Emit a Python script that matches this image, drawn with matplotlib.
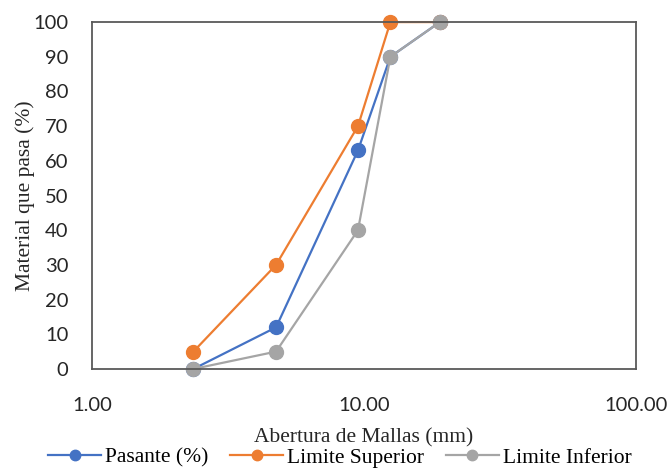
import matplotlib.pyplot as plt
from matplotlib.ticker import FixedLocator, NullLocator

# datos de la curva granulometrica
abertura = [2.36, 4.75, 9.5, 12.5, 19.0]
pasante = [0, 12, 63, 90, 100]
lim_sup = [5, 30, 70, 100, 100]
lim_inf = [0, 5, 40, 90, 100]

x_ticks = [1, 10, 100]
x_labels = ['1.00', '10.00', '100.00']
y_ticks = [0, 10, 20, 30, 40, 50, 60, 70, 80, 90, 100]

fig = plt.figure(figsize=(6.71, 4.70), dpi=100)
ax = fig.add_axes([0.137, 0.215, 0.811, 0.738])

ax.plot(abertura, pasante, color='#4472C4', lw=1.6, marker='o', ms=10, label='Pasante (%)', clip_on=False)
ax.plot(abertura, lim_sup, color='#ED7D31', lw=1.6, marker='o', ms=10, label='Limite Superior', clip_on=False)
ax.plot(abertura, lim_inf, color='#A5A5A5', lw=1.6, marker='o', ms=10, label='Limite Inferior', clip_on=False)

ax.set_xscale('log')
ax.set_xlim(1, 100)
ax.set_ylim(0, 100)
ax.xaxis.set_major_locator(FixedLocator(x_ticks))
ax.xaxis.set_minor_locator(NullLocator())
ax.set_xticklabels(x_labels)
ax.set_yticks(y_ticks)

for lab in ax.get_xticklabels() + ax.get_yticklabels():
    lab.set_fontfamily('Lato')
    lab.set_fontsize(14.5)
    lab.set_color('#262626')
ax.tick_params(axis='y', length=0, pad=17)
ax.tick_params(axis='x', length=0, pad=20)

for s in ax.spines.values():
    s.set_color('#595959')
    s.set_linewidth(1.3)

ax.set_xlabel('Abertura de Mallas (mm)', family='Liberation Serif', fontsize=15.5, color='#262626')
ax.set_ylabel('Material que pasa (%)', family='Liberation Serif', fontsize=15.5, color='#262626')
ax.xaxis.set_label_coords(0.5, -0.172)
ax.yaxis.set_label_coords(-0.104, 0.5)

leg = ax.legend(loc='center', bbox_to_anchor=(0.456, -0.256), ncol=3, frameon=False,
                prop={'family': 'Liberation Serif', 'size': 15.5}, handlelength=2.45,
                handletextpad=0.2, columnspacing=1.0, markerscale=0.75)

fig.savefig('out.png', dpi=100)
